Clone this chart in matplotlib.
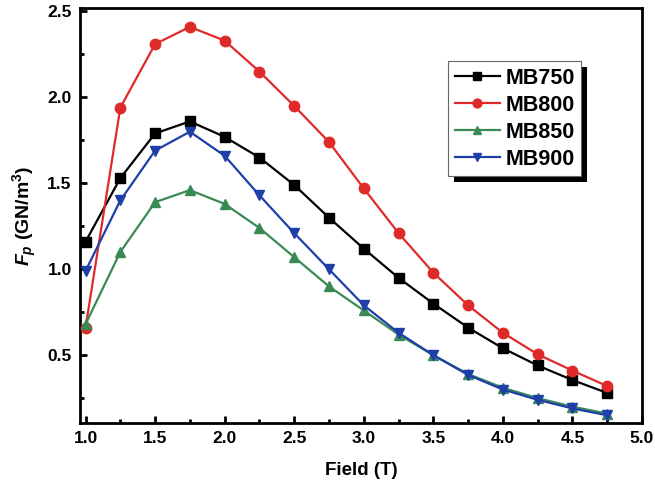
import matplotlib
matplotlib.use("Agg")
import matplotlib.pyplot as plt
from matplotlib.ticker import MultipleLocator
from matplotlib.patches import Rectangle

plt.rcParams['font.family'] = ['Liberation Sans', 'DejaVu Sans']
plt.rcParams['mathtext.fontset'] = 'custom'
plt.rcParams['mathtext.rm'] = 'Liberation Sans:bold'
plt.rcParams['mathtext.it'] = 'Liberation Sans:bold:italic'
plt.rcParams['mathtext.bf'] = 'Liberation Sans:bold'

field = [1.0, 1.25, 1.5, 1.75, 2.0, 2.25, 2.5, 2.75, 3.0, 3.25, 3.5, 3.75, 4.0, 4.25, 4.5, 4.75]
mb750 = [1.16, 1.53, 1.79, 1.86, 1.77, 1.65, 1.49, 1.30, 1.12, 0.95, 0.80, 0.66, 0.54, 0.44, 0.355, 0.28]
mb800 = [0.66, 1.94, 2.31, 2.41, 2.33, 2.15, 1.95, 1.74, 1.47, 1.21, 0.98, 0.79, 0.63, 0.505, 0.41, 0.32]
mb850 = [0.68, 1.10, 1.39, 1.46, 1.38, 1.24, 1.07, 0.90, 0.76, 0.62, 0.50, 0.39, 0.31, 0.25, 0.20, 0.16]
mb900 = [0.99, 1.40, 1.69, 1.80, 1.66, 1.43, 1.21, 1.00, 0.79, 0.63, 0.50, 0.385, 0.30, 0.24, 0.19, 0.15]
labels = ["MB750", "MB800", "MB850", "MB900"]

fig = plt.figure(figsize=(6.55, 4.9), dpi=100)
ax = fig.add_axes([0.1221, 0.1367, 0.858, 0.847])

styles = [
    (mb750, 'black', 's'),
    (mb800, '#e02a2a', 'o'),
    (mb850, '#3a8a55', '^'),
    (mb900, '#1f3fa8', 'v'),
]
for (vals, col, mk), lab in zip(styles, labels):
    ax.plot(field, vals, color=col, marker=mk, markersize=7.5, linewidth=1.6,
            label=lab, clip_on=False, zorder=3)

ax.set_xlim(0.96, 5.0)
ax.set_ylim(0.105, 2.52)
ax.xaxis.set_major_locator(MultipleLocator(0.5))
ax.xaxis.set_minor_locator(MultipleLocator(0.25))
ax.yaxis.set_major_locator(MultipleLocator(0.5))
ax.yaxis.set_minor_locator(MultipleLocator(0.25))
ax.tick_params(which='both', direction='in', top=False, right=False, width=2)
ax.tick_params(which='major', length=5, labelsize=12.5, pad=6)
ax.tick_params(which='minor', length=3)
for lbl in ax.get_xticklabels() + ax.get_yticklabels():
    lbl.set_fontweight('bold')
for sp in ax.spines.values():
    sp.set_linewidth(2)

ax.set_xlabel('Field (T)', fontsize=13.5, fontweight='bold', labelpad=11)
ax.set_ylabel(r'$F_p$ (GN/m$^3$)', fontsize=14, fontweight='bold', labelpad=6)

leg = ax.legend(loc='upper left', bbox_to_anchor=(0.655, 0.872), borderaxespad=0,
                frameon=True, fancybox=False, shadow=False, framealpha=1,
                handlelength=2.1, markerscale=0.85,
                handletextpad=0.25, borderpad=0.3, labelspacing=0.28,
                prop={'weight': 'bold', 'size': 15.5})
leg.get_frame().set_edgecolor('#666666')
leg.get_frame().set_linewidth(0.8)
leg.set_zorder(7)
fig.canvas.draw()
bb = leg.get_window_extent().transformed(fig.transFigure.inverted())
shadow = Rectangle((bb.x0 + 6 / 655, bb.y0 - 6 / 490), bb.width, bb.height,
                   transform=fig.transFigure, facecolor='black', edgecolor='none', zorder=6)
ax.add_patch(shadow)

fig.savefig('out.png', dpi=100)
